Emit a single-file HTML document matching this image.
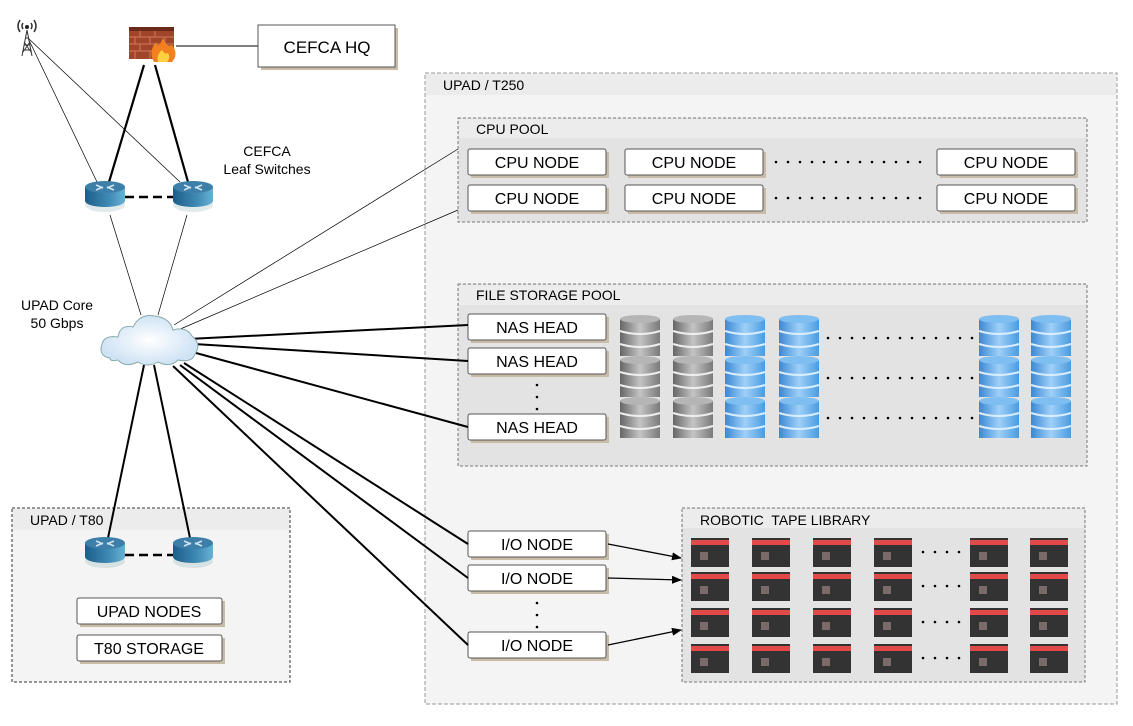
<!DOCTYPE html>
<html><head><meta charset="utf-8"><style>
html,body{margin:0;padding:0;background:#fff}
svg{display:block;font-family:"Liberation Sans",sans-serif}
</style></head><body>
<svg width="1133" height="726" viewBox="0 0 1133 726" xmlns="http://www.w3.org/2000/svg">
<defs>
<linearGradient id="gg" x1="0" x2="1"><stop offset="0" stop-color="#666"/><stop offset=".5" stop-color="#c4c4c4"/><stop offset="1" stop-color="#7a7a7a"/></linearGradient>
<linearGradient id="bg" x1="0" x2="1"><stop offset="0" stop-color="#3a88d4"/><stop offset=".5" stop-color="#9fd0f8"/><stop offset="1" stop-color="#4a9be0"/></linearGradient>
<linearGradient id="rg" x1="0" x2="1"><stop offset="0" stop-color="#1d5d8a"/><stop offset=".6" stop-color="#3f8bb5"/><stop offset="1" stop-color="#6ab0d4"/></linearGradient>
<radialGradient id="cg"><stop offset="0" stop-color="#fff"/><stop offset="1" stop-color="#cfe3f5"/></radialGradient>
<g id="disk1">
 <rect x="0" y="4" width="40" height="37" fill="url(#gg)"/>
 <ellipse cx="20" cy="4" rx="20" ry="4" fill="#b5b5b5"/>
 <path d="M0 16 Q20 22 40 16 M0 29 Q20 35 40 29" stroke="#eee" stroke-width="2" fill="none"/>
</g>
<g id="disk2">
 <rect x="0" y="4" width="40" height="37" fill="url(#bg)"/>
 <ellipse cx="20" cy="4" rx="20" ry="4" fill="#7fbef0"/>
 <path d="M0 16 Q20 22 40 16 M0 29 Q20 35 40 29" stroke="#d8eeff" stroke-width="2" fill="none"/>
</g>
<g id="stackg"><use href="#disk1" y="0"/><use href="#disk1" y="41"/><use href="#disk1" y="82"/></g>
<g id="stackb"><use href="#disk2" y="0"/><use href="#disk2" y="41"/><use href="#disk2" y="82"/></g>
<g id="tape">
 <rect x="0" y="0" width="38" height="29" fill="#333"/>
 <rect x="0" y="2" width="38" height="5" fill="#e24a4a"/>
 <rect x="9" y="14" width="8" height="8" fill="#7a6a6a"/>
</g>
<g id="router">
 <ellipse cx="0" cy="12" rx="20" ry="7" fill="#8aa" opacity=".25"/>
 <rect x="-20" y="-6" width="40" height="14" fill="url(#rg)"/>
 <ellipse cx="0" cy="8" rx="20" ry="6" fill="url(#rg)"/>
 <ellipse cx="0" cy="-6" rx="20" ry="6" fill="#3d7fa8"/>
 <path d="M-9 -8 L-2 -5 M9 -8 L2 -5 M-9 -3 L-2 -6 M9 -3 L2 -6" stroke="#cfe4f0" stroke-width="1.5"/>
</g>
<g id="dots"><g fill="#000"><circle cx="0" cy="0" r="1.3"/><circle cx="12" cy="0" r="1.3"/><circle cx="24" cy="0" r="1.3"/><circle cx="36" cy="0" r="1.3"/><circle cx="48" cy="0" r="1.3"/><circle cx="60" cy="0" r="1.3"/><circle cx="72" cy="0" r="1.3"/><circle cx="84" cy="0" r="1.3"/><circle cx="96" cy="0" r="1.3"/><circle cx="108" cy="0" r="1.3"/><circle cx="120" cy="0" r="1.3"/><circle cx="132" cy="0" r="1.3"/><circle cx="144" cy="0" r="1.3"/></g></g>
<marker id="ar" markerWidth="10" markerHeight="8" refX="9" refY="4" orient="auto" markerUnits="userSpaceOnUse"><path d="M0 0 L10 4 L0 8z" fill="#000"/></marker>
</defs>

<rect x="425" y="73" width="692" height="631" fill="#f4f4f4" stroke="#999" stroke-dasharray="4 2"/>
<rect x="426" y="74" width="690" height="21" fill="#ececec"/>
<text x="443" y="90" font-size="14">UPAD / T250</text>

<rect x="458" y="118" width="629" height="104" fill="#e3e3e3" stroke="#777" stroke-dasharray="3 2"/>
<rect x="459" y="119" width="627" height="19" fill="#ececec"/>
<text x="476" y="134" font-size="14">CPU POOL</text>
<g font-size="16" text-anchor="middle">
<g fill="#c8bca8"><rect x="471" y="152" width="138" height="26"/><rect x="628" y="152" width="138" height="26"/><rect x="940" y="152" width="138" height="26"/><rect x="471" y="188" width="138" height="26"/><rect x="628" y="188" width="138" height="26"/><rect x="940" y="188" width="138" height="26"/></g>
<g fill="#fff" stroke="#555"><rect x="468" y="149" width="138" height="26" rx="2"/><rect x="625" y="149" width="138" height="26" rx="2"/><rect x="937" y="149" width="138" height="26" rx="2"/><rect x="468" y="185" width="138" height="26" rx="2"/><rect x="625" y="185" width="138" height="26" rx="2"/><rect x="937" y="185" width="138" height="26" rx="2"/></g>
<text x="537" y="168">CPU NODE</text><text x="694" y="168">CPU NODE</text><text x="1006" y="168">CPU NODE</text>
<text x="537" y="204">CPU NODE</text><text x="694" y="204">CPU NODE</text><text x="1006" y="204">CPU NODE</text>
</g>
<use href="#dots" x="776" y="162"/><use href="#dots" x="776" y="198"/>

<rect x="458" y="284" width="629" height="182" fill="#e3e3e3" stroke="#777" stroke-dasharray="3 2"/>
<rect x="459" y="285" width="627" height="20" fill="#ececec"/>
<text x="476" y="300" font-size="14">FILE STORAGE POOL</text>
<g font-size="16" text-anchor="middle">
<g fill="#c8bca8"><rect x="471" y="317" width="138" height="26"/><rect x="471" y="351" width="138" height="26"/><rect x="471" y="417" width="138" height="26"/></g>
<g fill="#fff" stroke="#555"><rect x="468" y="314" width="138" height="26" rx="2"/><rect x="468" y="348" width="138" height="26" rx="2"/><rect x="468" y="414" width="138" height="26" rx="2"/></g>
<text x="537" y="333">NAS HEAD</text><text x="537" y="367">NAS HEAD</text><text x="537" y="433">NAS HEAD</text>
</g>
<g fill="#000"><circle cx="537" cy="385" r="1.3"/><circle cx="537" cy="397" r="1.3"/><circle cx="537" cy="409" r="1.3"/></g>
<use href="#stackg" x="620" y="315"/><use href="#stackg" x="673" y="315"/>
<use href="#stackb" x="725" y="315"/><use href="#stackb" x="779" y="315"/>
<use href="#stackb" x="979" y="315"/><use href="#stackb" x="1031" y="315"/>
<g transform="translate(828,0)"><use href="#dots" y="338"/><use href="#dots" y="378"/><use href="#dots" y="418"/></g>

<rect x="682" y="508" width="403" height="174" fill="#e3e3e3" stroke="#777" stroke-dasharray="3 2"/>
<rect x="683" y="509" width="401" height="19" fill="#ececec"/>
<text x="700" y="525" font-size="14" xml:space="preserve">ROBOTIC  TAPE LIBRARY</text>
<g>
<use href="#tape" x="691" y="538"/><use href="#tape" x="752" y="538"/><use href="#tape" x="813" y="538"/><use href="#tape" x="874" y="538"/><use href="#tape" x="970" y="538"/><use href="#tape" x="1030" y="538"/>
<use href="#tape" x="691" y="572"/><use href="#tape" x="752" y="572"/><use href="#tape" x="813" y="572"/><use href="#tape" x="874" y="572"/><use href="#tape" x="970" y="572"/><use href="#tape" x="1030" y="572"/>
<use href="#tape" x="691" y="608"/><use href="#tape" x="752" y="608"/><use href="#tape" x="813" y="608"/><use href="#tape" x="874" y="608"/><use href="#tape" x="970" y="608"/><use href="#tape" x="1030" y="608"/>
<use href="#tape" x="691" y="644"/><use href="#tape" x="752" y="644"/><use href="#tape" x="813" y="644"/><use href="#tape" x="874" y="644"/><use href="#tape" x="970" y="644"/><use href="#tape" x="1030" y="644"/>
</g>
<g fill="#000"><circle cx="923" cy="552" r="1.3"/><circle cx="935" cy="552" r="1.3"/><circle cx="947" cy="552" r="1.3"/><circle cx="959" cy="552" r="1.3"/>
<circle cx="923" cy="586" r="1.3"/><circle cx="935" cy="586" r="1.3"/><circle cx="947" cy="586" r="1.3"/><circle cx="959" cy="586" r="1.3"/>
<circle cx="923" cy="622" r="1.3"/><circle cx="935" cy="622" r="1.3"/><circle cx="947" cy="622" r="1.3"/><circle cx="959" cy="622" r="1.3"/>
<circle cx="923" cy="658" r="1.3"/><circle cx="935" cy="658" r="1.3"/><circle cx="947" cy="658" r="1.3"/><circle cx="959" cy="658" r="1.3"/></g>

<g font-size="16" text-anchor="middle">
<g fill="#c8bca8"><rect x="471" y="534" width="138" height="26"/><rect x="471" y="568" width="138" height="26"/><rect x="471" y="635" width="138" height="26"/></g>
<g fill="#fff" stroke="#555"><rect x="468" y="531" width="138" height="26" rx="2"/><rect x="468" y="565" width="138" height="26" rx="2"/><rect x="468" y="632" width="138" height="26" rx="2"/></g>
<text x="537" y="550">I/O NODE</text><text x="537" y="584">I/O NODE</text><text x="537" y="651">I/O NODE</text>
</g>
<g fill="#000"><circle cx="537" cy="603" r="1.3"/><circle cx="537" cy="615" r="1.3"/><circle cx="537" cy="627" r="1.3"/></g>
<g stroke="#000" stroke-width="1.3" marker-end="url(#ar)">
<line x1="608" y1="544" x2="681" y2="558"/><line x1="608" y1="578" x2="681" y2="580"/><line x1="608" y1="645" x2="681" y2="630"/>
</g>

<rect x="12" y="508" width="278" height="174" fill="#f4f4f4" stroke="#333" stroke-dasharray="3 2"/>
<rect x="13" y="509" width="276" height="21" fill="#ececec"/>
<text x="30" y="525" font-size="14">UPAD / T80</text>
<g font-size="16" text-anchor="middle">
<g fill="#c8bca8"><rect x="80" y="601" width="145" height="26"/><rect x="80" y="638" width="145" height="26"/></g>
<g fill="#fff" stroke="#555"><rect x="77" y="598" width="145" height="26" rx="2"/><rect x="77" y="635" width="145" height="26" rx="2"/></g>
<text x="149" y="617">UPAD NODES</text><text x="149" y="654">T80 STORAGE</text>
</g>

<g stroke="#000" fill="none">
<line x1="28" y1="38" x2="97" y2="182" stroke-width=".7"/>
<line x1="28" y1="38" x2="180" y2="182" stroke-width=".7"/>
<line x1="144" y1="65" x2="109" y2="182" stroke-width="2.2"/>
<line x1="155" y1="65" x2="188" y2="182" stroke-width="2.2"/>
<line x1="176" y1="46" x2="258" y2="46" stroke-width="1"/>
<line x1="125" y1="197" x2="173" y2="197" stroke-width="2.5" stroke-dasharray="9 5"/>
<line x1="110" y1="215" x2="141" y2="315" stroke-width=".7"/>
<line x1="187" y1="215" x2="158" y2="315" stroke-width=".7"/>
<line x1="174" y1="325" x2="458" y2="149" stroke-width=".7"/>
<line x1="178" y1="330" x2="458" y2="210" stroke-width=".7"/>
<line x1="188" y1="339" x2="468" y2="325" stroke-width="2"/>
<line x1="194" y1="344" x2="468" y2="361" stroke-width="2"/>
<line x1="196" y1="353" x2="468" y2="427" stroke-width="2"/>
<line x1="184" y1="363" x2="468" y2="544" stroke-width="2"/>
<line x1="180" y1="365" x2="468" y2="578" stroke-width="2"/>
<line x1="173" y1="366" x2="468" y2="645" stroke-width="2"/>
<line x1="144" y1="365" x2="108" y2="538" stroke-width="2"/>
<line x1="154" y1="365" x2="190" y2="538" stroke-width="2"/>
<line x1="125" y1="555" x2="173" y2="555" stroke-width="2.5" stroke-dasharray="9 5"/>
</g>

<use href="#router" x="105" y="193"/><use href="#router" x="193" y="193"/>
<use href="#router" x="105" y="549"/><use href="#router" x="193" y="549"/>

<path d="M110 358 Q98 356 102 344 Q104 335 118 337 Q120 324 133 327 Q140 313 155 316 Q170 318 173 330 Q186 326 192 336 Q202 344 195 354 Q192 363 178 360 Q170 368 158 362 Q148 368 138 362 Q125 368 118 360 Q110 362 110 358Z" fill="url(#cg)" stroke="#8aa" stroke-width="1"/>

<g>
<rect x="129" y="30" width="45" height="29" fill="#a0442a"/>
<path d="M129 37 H174 M129 44 H174 M129 51 H174 M140 30 V37 M155 30 V37 M135 37 V44 M150 37 V44 M165 37 V44 M140 44 V51 M155 44 V51 M135 51 V59 M150 51 V59" stroke="#d07a60" stroke-width="1"/>
<rect x="129" y="27" width="45" height="4" fill="#6a2a1a"/>
<path d="M154 62 Q148 52 156 42 Q158 50 163 38 Q167 48 172 45 Q179 54 172 62Z" fill="#f08020"/>
<path d="M158 62 Q156 55 162 50 Q165 55 168 53 Q171 58 167 62Z" fill="#ffd040"/>
</g>

<g stroke="#333" fill="none" stroke-width="1">
<path d="M27 30 L22 56 M27 30 L32 56 M24 45 L30 45 M23 50 L31 50 M25 38 L29 38 M24 42 L31 52 M30 42 L23 52"/>
<path d="M20 20 Q16 26 20 32 M34 20 Q38 26 34 32 M23 23 Q21 26 23 29 M31 23 Q33 26 31 29" stroke-width="1.5"/>
</g>
<circle cx="27" cy="27" r="2" fill="#222"/>

<rect x="261" y="28" width="137" height="42" fill="#c8bca8"/>
<rect x="258" y="25" width="137" height="42" fill="#fff" stroke="#555"/>
<text x="327" y="53" font-size="17" text-anchor="middle">CEFCA HQ</text>

<g font-size="14" text-anchor="middle">
<text x="267" y="156">CEFCA</text><text x="267" y="174">Leaf Switches</text>
<text x="57" y="310">UPAD Core</text><text x="57" y="328">50 Gbps</text>
</g>
</svg>
</body></html>
